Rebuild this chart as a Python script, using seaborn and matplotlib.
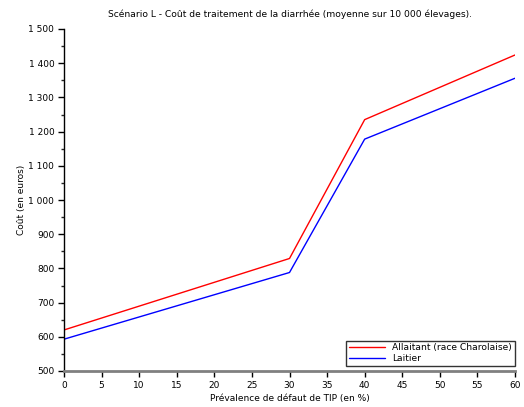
import matplotlib
matplotlib.use("Agg")
import matplotlib.pyplot as plt
import seaborn as sns
import pandas as pd
from matplotlib.ticker import FuncFormatter, MultipleLocator

prevalence = [0, 30, 40, 60]
allaitant = [620, 829, 1235, 1424]
laitier = [593, 788, 1178, 1356]
series_names = ["Allaitant (race Charolaise)", "Laitier"]

df = pd.DataFrame({
    "x": prevalence * 2,
    "y": allaitant + laitier,
    "serie": [series_names[0]] * len(prevalence) + [series_names[1]] * len(prevalence),
})

sns.set_style("white")
plt.rcParams["font.family"] = ["DejaVu Sans"]
plt.rcParams["text.color"] = "black"
plt.rcParams["axes.labelcolor"] = "black"

fig = plt.figure(figsize=(5.24, 4.07), dpi=100)
ax = fig.add_axes([64/524, 1-371/407, (515-64)/524, (371-29)/407])

sns.lineplot(data=df, x="x", y="y", hue="serie", palette=["#ff0000", "#0000ff"],
             linewidth=1.0, ax=ax, legend=True)

ax.set_xlim(0, 60)
ax.set_ylim(500, 1500)
ax.xaxis.set_major_locator(MultipleLocator(5))
ax.yaxis.set_major_locator(MultipleLocator(100))
ax.yaxis.set_minor_locator(MultipleLocator(50))
ax.yaxis.set_major_formatter(FuncFormatter(lambda v, p: f"{int(v):,}".replace(",", " ")))

for s in ["top", "right"]:
    ax.spines[s].set_visible(False)
ax.spines["left"].set_color("black")
ax.spines["left"].set_linewidth(1.0)
ax.spines["bottom"].set_color("#808080")
ax.spines["bottom"].set_linewidth(2.0)

ax.tick_params(axis="both", which="major", direction="out", length=4, width=1,
               colors="black", labelsize=6.5, pad=3, left=True, bottom=True)
ax.tick_params(axis="y", which="minor", direction="out", length=2.5, width=1, left=True)

ax.set_xlabel("Prévalence de défaut de TIP (en %)", fontsize=6.5, labelpad=3, color="black")
ax.set_ylabel("Coût (en euros)", fontsize=6.5, labelpad=2, color="black")
fig.text((64 + 515) / 2 / 524, 1-14/407,
         "Scénario L - Coût de traitement de la diarrhée (moyenne sur 10 000 élevages).",
         ha="center", va="center", fontsize=6.6, color="black")

leg = ax.legend(loc="lower right", bbox_to_anchor=(1.0, 5/342), fontsize=6.6, frameon=True,
                fancybox=False, edgecolor="black", borderaxespad=0.0, handlelength=4,
                borderpad=0.3, labelspacing=0.2)
leg.get_frame().set_linewidth(1.0)
for t in leg.get_texts():
    t.set_color("black")

fig.savefig("out.png", dpi=100)
